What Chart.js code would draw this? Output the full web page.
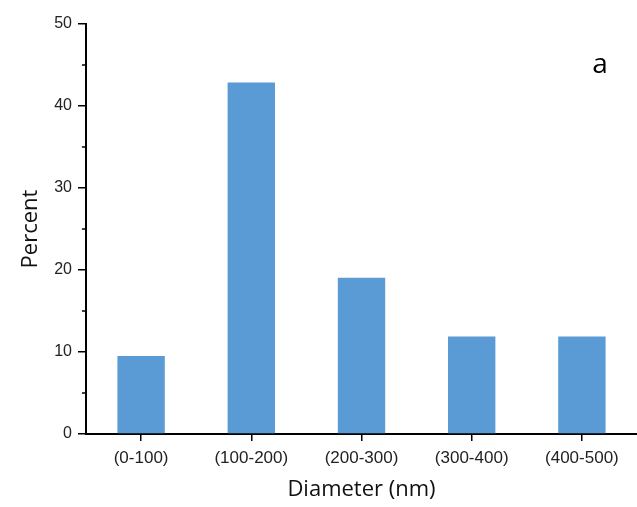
<!DOCTYPE html>
<html>
<head>
<meta charset="utf-8">
<script src="https://cdn.jsdelivr.net/npm/chart.js@4/dist/chart.umd.min.js"></script>
<style>
  html, body { margin: 0; padding: 0; background: #fff; }
  #wrap { width: 637px; height: 507px; }
</style>
</head>
<body>
<div id="wrap"><canvas id="chart"></canvas></div>
<script>
// Size distribution data
const categories = ['(0-100)', '(100-200)', '(200-300)', '(300-400)', '(400-500)'];
const percents = [9.52, 42.86, 19.05, 11.9, 11.9];
const yTicks = [0, 10, 20, 30, 40, 50];
const minorTicks = [5, 15, 25, 35, 45];
const panelLabel = 'a';

// minor ticks on y axis + panel letter
const extras = {
    id: 'extras',
    afterDraw(chart) {
        const ctx = chart.ctx;
        const y = chart.scales.y;
        ctx.save();
        ctx.strokeStyle = '#000';
        ctx.lineWidth = 1.5;
        minorTicks.forEach(v => {
            const py = y.getPixelForValue(v);
            ctx.beginPath();
            ctx.moveTo(y.right - 4, py);
            ctx.lineTo(y.right, py);
            ctx.stroke();
        });
        ctx.fillStyle = '#000';
        ctx.font = "28px 'Open Sans', sans-serif";
        ctx.textAlign = 'center';
        ctx.textBaseline = 'alphabetic';
        ctx.fillText(panelLabel, 600, 73);
        ctx.restore();
    }
};

new Chart(document.getElementById('chart'), {
    type: 'bar',
    data: {
        labels: categories,
        datasets: [{
            data: percents,
            backgroundColor: '#5b9bd5',
            borderWidth: 0,
            barPercentage: 0.43,
            categoryPercentage: 1
        }]
    },
    options: {
        responsive: true,
        maintainAspectRatio: false,
        animation: false,
        layout: { padding: { top: 24, right: 0, left: 14, bottom: 0 } },
        plugins: {
            legend: { display: false },
            tooltip: { enabled: false }
        },
        scales: {
            x: {
                offset: true,
                grid: { offset: false, drawOnChartArea: false, drawTicks: true, tickLength: 7, color: '#000', lineWidth: 1.5 },
                border: { display: true, color: '#000', width: 2 },
                ticks: { color: '#222', font: { family: "'Liberation Sans', Arial, sans-serif", size: 17 }, padding: 7, maxRotation: 0 },
                title: { display: true, text: 'Diameter (nm)', color: '#111', font: { family: "'Open Sans', sans-serif", size: 22 }, padding: { top: 6 } },
                afterFit(scale) { scale.height = 73; }
            },
            y: {
                min: 0,
                max: 50,
                afterBuildTicks(scale) { scale.ticks = yTicks.map(v => ({ value: v })); },
                grid: { drawOnChartArea: false, drawTicks: true, tickLength: 8, color: '#000', lineWidth: 1.5 },
                border: { display: true, color: '#000', width: 2 },
                ticks: { color: '#222', font: { family: "'Liberation Sans', Arial, sans-serif", size: 16 }, padding: 6 },
                title: { display: true, text: 'Percent', color: '#111', font: { family: "'Open Sans', sans-serif", size: 22 } },
                afterFit(scale) { scale.width = 72; }
            }
        }
    },
    plugins: [extras]
});
</script>
</body>
</html>
